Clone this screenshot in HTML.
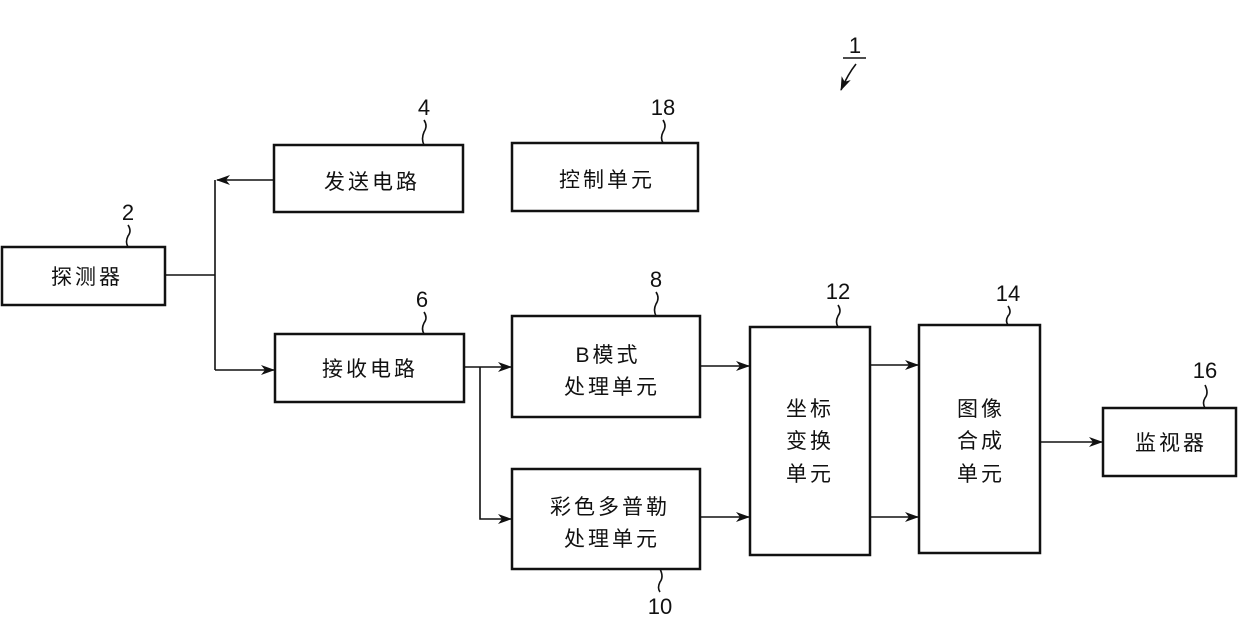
<!DOCTYPE html>
<html><head><meta charset="utf-8"><style>
body{margin:0;background:#fff;}
svg text{font-family:"Liberation Sans","Noto Sans CJK SC",sans-serif;fill:#111;}
.c{font-size:21px;font-family:"Noto Serif CJK SC","Noto Sans CJK SC",serif;}
</style></head><body>
<svg width="1240" height="620" viewBox="0 0 1240 620" xmlns="http://www.w3.org/2000/svg">
<defs><marker id="a" markerWidth="14" markerHeight="10" refX="13" refY="5" orient="auto" markerUnits="userSpaceOnUse"><path d="M0,0 L14,5 L0,10 L4,5z" fill="#111"/></marker></defs>
<g fill="none" stroke="#111" stroke-width="2.5">
<rect x="2" y="247" width="163" height="58"/>
<rect x="274" y="145" width="189" height="67"/>
<rect x="275" y="334" width="189" height="68"/>
<rect x="512" y="143" width="186" height="68"/>
<rect x="512" y="316" width="188" height="101"/>
<rect x="512" y="469" width="188" height="100"/>
<rect x="750" y="327" width="120" height="228"/>
<rect x="919" y="325" width="121" height="228"/>
<rect x="1103" y="408" width="133" height="68"/>
</g>
<g fill="none" stroke="#111" stroke-width="1.6">
<path d="M165 275 H215 M215 180 V370"/>
<path d="M274 180 H217" marker-end="url(#a)"/>
<path d="M215 370 H274" marker-end="url(#a)"/>
<path d="M464 367 H511" marker-end="url(#a)"/>
<path d="M480 367 V519 H511" marker-end="url(#a)"/>
<path d="M700 366 H749" marker-end="url(#a)"/>
<path d="M700 517 H749" marker-end="url(#a)"/>
<path d="M870 365 H918" marker-end="url(#a)"/>
<path d="M870 517 H918" marker-end="url(#a)"/>
<path d="M1040 442 H1102" marker-end="url(#a)"/>
<path d="M128 225 q4 6 0 11 q-3 6 0 11"/>
<path d="M424 120 q4 6 0 12 q-3 7 0 13"/>
<path d="M663 120 q4 6 0 12 q-3 6 0 11"/>
<path d="M424 312 q4 6 0 11 q-3 6 0 11"/>
<path d="M656 292 q4 6 0 12 q-3 6 0 12"/>
<path d="M838 305 q4 6 0 11 q-3 6 0 11"/>
<path d="M1008 306 q4 6 0 10 q-3 5 0 9"/>
<path d="M1205 385 q4 8 0 13 q-3 5 0 10"/>
<path d="M660 569 q4 8 0 13 q-3 6 0 10"/>
<path d="M843 58 H866"/>
<path d="M856 64 q-8 10 -15 26" marker-end="url(#a)"/>
</g>
<g font-size="22" text-anchor="middle">
<text x="855" y="53">1</text>
<text x="424" y="115">4</text>
<text x="663" y="115">18</text>
<text x="128" y="220">2</text>
<text x="422" y="307">6</text>
<text x="656" y="287">8</text>
<text x="838" y="299">12</text>
<text x="1008" y="301">14</text>
<text x="1205" y="378">16</text>
<text x="660" y="614">10</text>
</g>
<g class="c" text-anchor="middle" letter-spacing="3">
<text x="87" y="284">探测器</text>
<text x="372" y="189">发送电路</text>
<text x="370" y="376">接收电路</text>
<text x="607" y="187">控制单元</text>
<text x="608" y="362">B模式</text>
<text x="612" y="394">处理单元</text>
<text x="610" y="514">彩色多普勒</text>
<text x="612" y="546">处理单元</text>
<text x="810" y="416">坐标</text>
<text x="810" y="448">变换</text>
<text x="810" y="481">单元</text>
<text x="981" y="416">图像</text>
<text x="981" y="448">合成</text>
<text x="981" y="481">单元</text>
<text x="1171" y="450">监视器</text>
</g>
</svg>
</body></html>
